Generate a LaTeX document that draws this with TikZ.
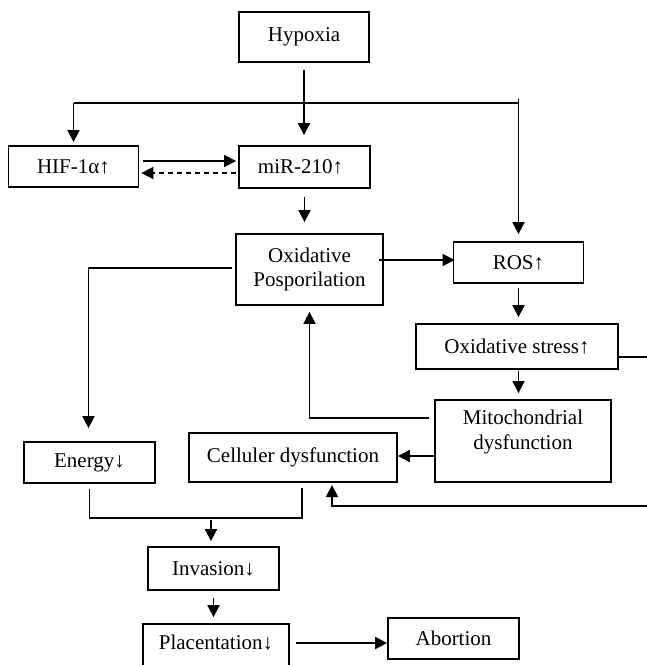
\documentclass[tikz,border=0pt]{standalone}
\usepackage{fontspec}
\setmainfont{Liberation Serif}
\usetikzlibrary{arrows.meta,calc}
\begin{document}
\begin{tikzpicture}[x=1pt,y=-1pt,
  box/.style={draw, line width=1.8pt, inner sep=0pt, align=center, font=\fontsize{21}{24}\selectfont},
  txt/.style={inner sep=0pt, align=center, font=\fontsize{21}{25}\selectfont},
  line/.style={line width=1.8pt},
  arr/.style={line width=1.8pt, -{Triangle[length=12pt,width=12pt]}}]
\useasboundingbox[fill=white] (0,0) rectangle (647,665);

% nodes
\node[box, minimum width=130pt, minimum height=50pt] (hyp) at (304,37) {Hypoxia};
\node[box, minimum width=130pt, minimum height=41pt] (hif) at (73.5,166.5) {HIF-1α↑};
\node[box, minimum width=131pt, minimum height=42pt] (mir) at (304.5,167) {miR-210↑\hspace*{8pt}};
\node[box, minimum width=147pt, minimum height=71pt] (oxp) at (309.5,269.5) {Oxidative\\Posporilation};
\node[box, minimum width=130pt, minimum height=41pt] (ros) at (518.5,262.5) {ROS↑};
\node[box, minimum width=202pt, minimum height=45pt] (oxs) at (517,346.5) {Oxidative stress↑};
\node[box, minimum width=176pt, minimum height=82pt] (mito) at (523,441) {};
\node[txt] (mitot) at (523,432) {Mitochondrial\\dysfunction};
\node[box, minimum width=208pt, minimum height=49pt] (cel) at (293,457.5) {Celluler dysfunction};
\node[box, minimum width=131pt, minimum height=41pt] (ene) at (89.5,462.5) {Energy↓};
\node[box, minimum width=131pt, minimum height=43pt] (inv) at (213.5,568.5) {Invasion↓};
\node[box, minimum width=146pt, minimum height=50pt] (pla) at (216,649) {};
\node[txt] (plat) at (216,643) {Placentation↓};
\node[box, minimum width=131pt, minimum height=41pt] (abo) at (453.5,638.5) {Abortion};

% branching from Hypoxia
\coordinate (jl) at (73.5,103);
\coordinate (jr) at (518.5,103);
\coordinate (jrt) at (518.5,99);
\draw[arr, shorten <=7pt, shorten >=10pt] (hyp.south) -- (hyp.south |- mir.north);
\draw[line] (jl) -- (jr);
\draw[arr, shorten >=3pt] (jl) -- (hif.north);
\draw[arr, shorten >=7pt] (jrt) -- (ros.north);

% HIF <-> miR
\draw[arr] ($(hif.east)+(4,-5.5)$) -- ($(mir.west)+(-2,-6)$);
\draw[arr, dashed, dash pattern=on 5pt off 4pt] ($(mir.west)+(-2,6)$) -- ($(hif.east)+(2,6.5)$);

% miR -> Oxidative phosphorylation
\draw[arr] ($(mir.south)+(0,8)$) -- ($(mir.south |- oxp.north)+(0,-11)$);

% Oxidative -> ROS
\draw[arr] ($(oxp.east)+(-5,-9.5)$) -- ($(ros.west)+(2,-2.5)$);

% Oxidative -> Energy
\draw[arr] ($(oxp.west)+(-3,-1.5)$) -| ($(ene.north)+(-1,-13)$);

% ROS -> Oxidative stress -> Mito
\draw[arr] ($(ros.south)+(0,4)$) -- ($(ros.south |- oxs.north)+(0,-6)$);
\draw[arr] ($(ros.south |- oxs.south)+(0,1)$) -- ($(ros.south |- mito.north)+(0,-6)$);

% Oxidative stress -> Celluler dysfunction (around the right edge)
\draw[arr] ($(oxs.east)+(0,10.5)$) -- (660,357) -- (660,506) -- (332,506) -- (332,485);

% Mito -> Oxidative phosphorylation
\draw[arr] ($(mito.west)+(-5,-23)$) -| ($(oxp.south)+(0,6)$);

% Mito -> Celluler
\draw[arr] ($(mito.west)+(0,15)$) -- ($(cel.east)+(0,-1.5)$);

% Energy + Celluler -> Invasion
\draw[line] ($(ene.south)+(0,5)$) |- ($(cel.south)+(9,35)$) -- ($(cel.south)+(9,5)$);
\draw[arr] ($(inv.north)+(-2.5,-26)$) -- ($(inv.north)+(-2.5,-5)$);

% Invasion -> Placentation -> Abortion
\draw[arr] ($(inv.south)+(0,7)$) -- ($(inv.south |- pla.north)+(0,-6)$);
\draw[arr] ($(pla.east |- abo.west)+(6,4.5)$) -- ($(abo.west)+(0,4.5)$);
\end{tikzpicture}
\end{document}
